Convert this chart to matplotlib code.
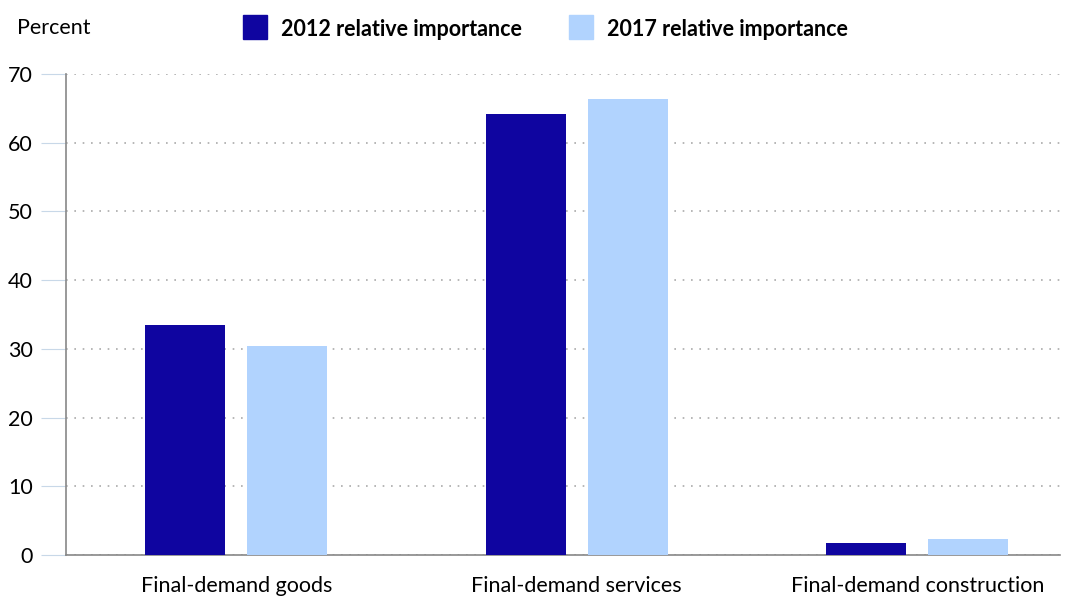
import numpy as np
import matplotlib.pyplot as plt
from matplotlib.patches import Rectangle

categories = ["Final-demand goods", "Final-demand services", "Final-demand construction"]
series_names = ["2012 relative importance", "2017 relative importance"]
values_2012 = [33.5, 64.2, 1.8]
values_2017 = [30.4, 66.3, 2.3]
colors = ["#0f05a0", "#b1d3fe"]

plt.rcParams['font.family'] = ['Lato', 'DejaVu Sans']

fig = plt.figure(figsize=(10.72, 6), dpi=100)
ax = fig.add_axes([0.0616, 0.075, 0.9274, 0.802])

x = np.arange(len(categories))
w = 0.235
ax.bar(x - 0.15, values_2012, w, color=colors[0], zorder=3)
ax.bar(x + 0.15, values_2017, w, color=colors[1], zorder=3)

ax.set_xlim(-0.5, 2.42)
ax.set_ylim(0, 70)
ax.set_yticks(range(0, 71, 10))
ax.set_xticks(x)
ax.set_xticklabels(categories, fontsize=15.5)
ax.tick_params(axis='x', length=0, pad=15)
ax.tick_params(axis='y', length=18, color='#c8d8e8', labelsize=15.5, pad=6)
ax.yaxis.grid(True, linestyle=(0, (1, 4)), color='#aaaaaa', linewidth=1.2, zorder=0)
for s in ['top', 'right']:
    ax.spines[s].set_visible(False)
ax.spines['left'].set_color('#888888')
ax.spines['bottom'].set_color('#888888')
ax.spines['left'].set_linewidth(1.2)
ax.spines['bottom'].set_linewidth(1.2)

fig.text(17 / 1072, 1 - 28 / 600, "Percent", fontsize=15.5, va='center')

# legend
for px, name, c in [(243, series_names[0], colors[0]), (569, series_names[1], colors[1])]:
    fig.patches.append(Rectangle((px / 1072, 1 - 39 / 600), 24 / 1072, 24 / 600,
                                 transform=fig.transFigure, color=c))
    fig.text((px + 38) / 1072, 1 - 29 / 600, name, fontsize=15.5, fontweight='bold', va='center')

plt.savefig("out.png", dpi=100)
